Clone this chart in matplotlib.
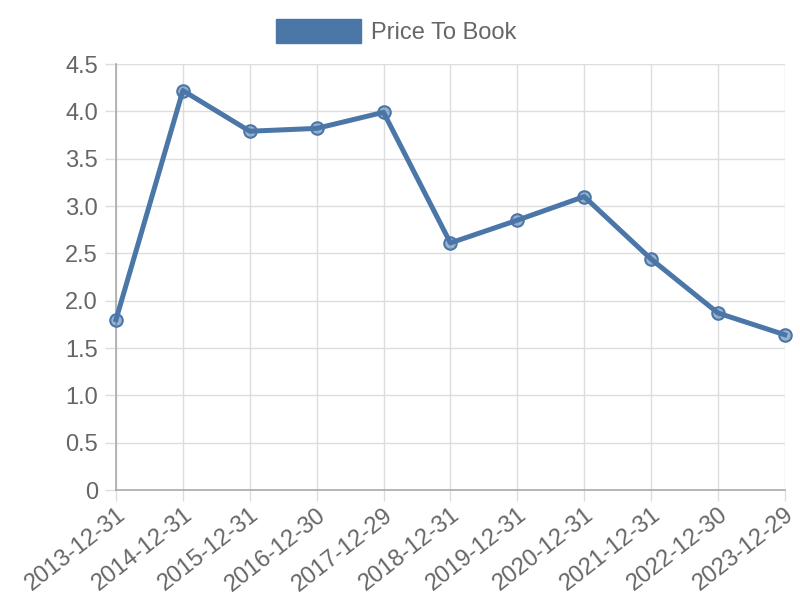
import matplotlib
matplotlib.use("Agg")
import matplotlib.pyplot as plt
from matplotlib.patches import Patch

plt.rcParams['font.family'] = ['Liberation Sans', 'DejaVu Sans']

dates = ["2013-12-31", "2014-12-31", "2015-12-31", "2016-12-30", "2017-12-29",
         "2018-12-31", "2019-12-31", "2020-12-31", "2021-12-31", "2022-12-30",
         "2023-12-29"]
price_to_book = [1.80, 4.22, 3.79, 3.82, 3.99, 2.61, 2.85, 3.10, 2.44, 1.87, 1.64]
yticks = [0, 0.5, 1.0, 1.5, 2.0, 2.5, 3.0, 3.5, 4.0, 4.5]
ytick_labels = ["0", "0.5", "1.0", "1.5", "2.0", "2.5", "3.0", "3.5", "4.0", "4.5"]

line_color = "#4a76a8"
text_color = "#666666"
grid_color = "#dddddd"

fig = plt.figure(figsize=(8, 6), dpi=100)
ax = fig.add_axes([0.145, 0.1833, 0.836, 0.71])

x = list(range(len(dates)))
ax.plot(x, price_to_book, color=line_color, lw=3.6, zorder=3, clip_on=False,
        marker="o", markersize=9, markerfacecolor=(0.29, 0.46, 0.66, 0.55),
        markeredgecolor=line_color, markeredgewidth=1.5)

ax.set_xlim(0, len(dates) - 1)
ax.set_ylim(0, 4.5)
ax.set_xticks(x)
ax.set_xticklabels(dates, rotation=38, ha="right", rotation_mode="anchor")
ax.set_yticks(yticks)
ax.set_yticklabels(ytick_labels)

ax.grid(True, color=grid_color, lw=1)
ax.set_axisbelow(True)
ax.tick_params(axis="both", colors=grid_color, labelcolor=text_color,
               labelsize=17, length=8, width=1)
ax.tick_params(axis="y", pad=5)
ax.tick_params(axis="x", pad=2)
for side in ["top", "right"]:
    ax.spines[side].set_visible(False)
for side in ["left", "bottom"]:
    ax.spines[side].set_color("#aaaaaa")
    ax.spines[side].set_linewidth(1.2)

fig.legend(handles=[Patch(color=line_color, label="Price To Book")],
           loc="center", bbox_to_anchor=(0.495, 0.948), frameon=False,
           fontsize=17, handlelength=3.6, handleheight=1.2, handletextpad=0.42,
           labelcolor=text_color)

fig.savefig("out.png", dpi=100)
